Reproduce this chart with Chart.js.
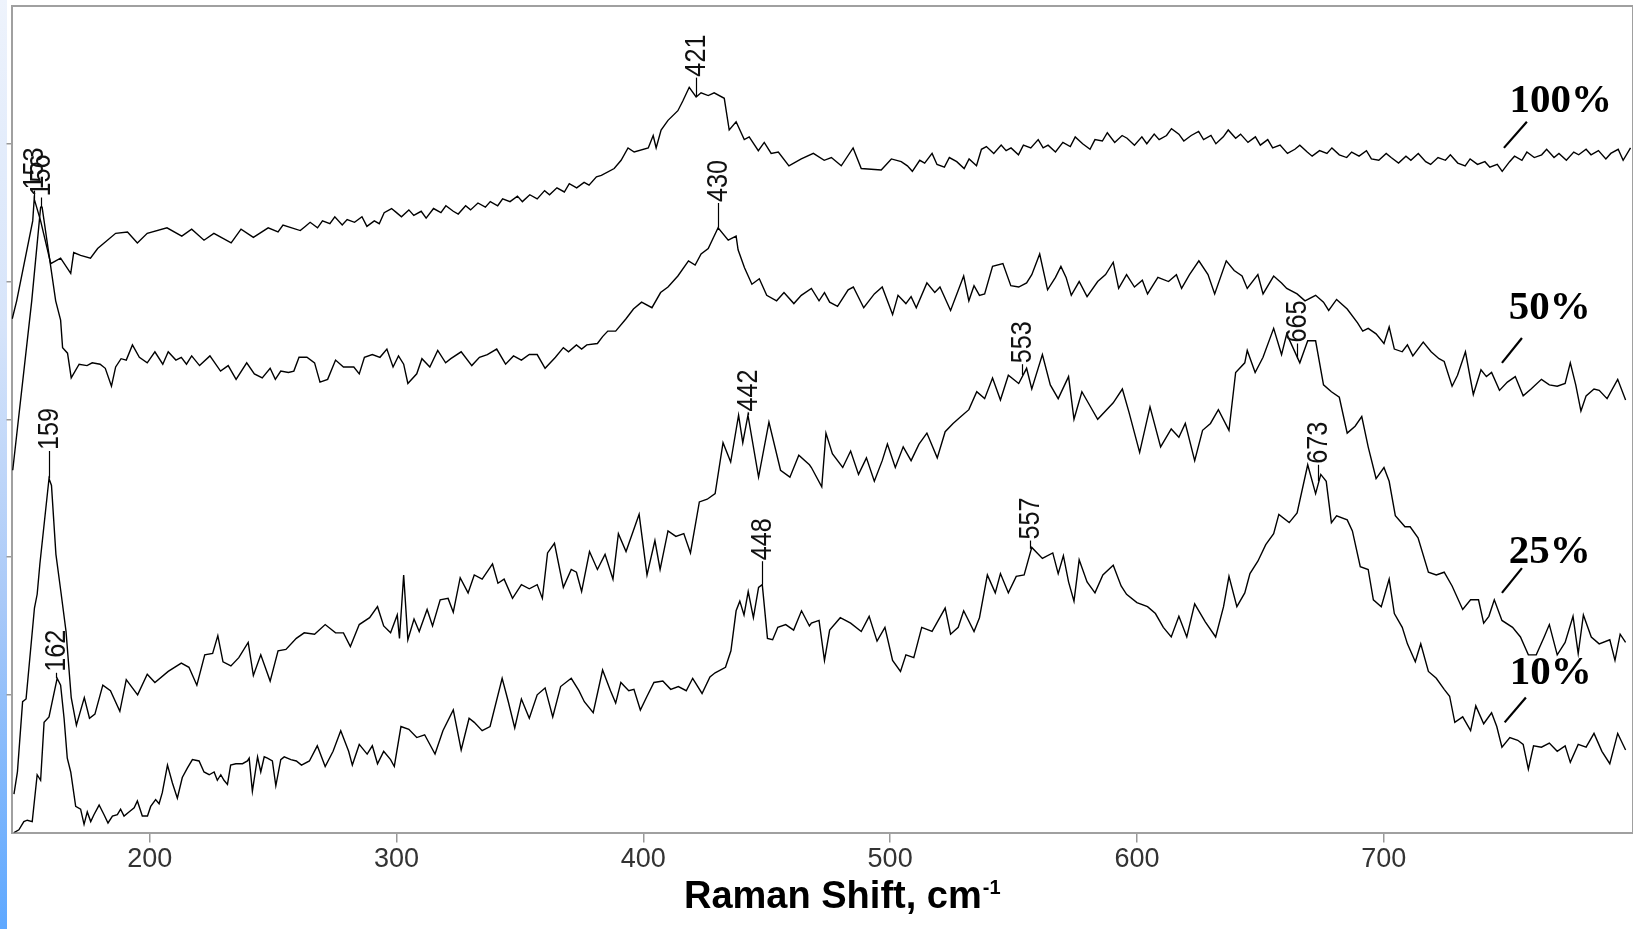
<!DOCTYPE html>
<html>
<head>
<meta charset="utf-8">
<script src="https://cdn.jsdelivr.net/npm/chart.js@4.4.1/dist/chart.umd.min.js"></script>
<style>
  html, body { margin: 0; padding: 0; background: #ffffff; overflow: hidden; }
  #wrap { position: relative; width: 1633px; height: 929px; }
  #strip { position: absolute; left: 0; top: 0; width: 7px; height: 929px;
    background: linear-gradient(to bottom, #eef3fc 0%, #d6e4fa 35%, #a9c9f8 65%, #5ea8ff 100%); }
  canvas { position: absolute; left: 0; top: 0; }
</style>
</head>
<body>
<div id="wrap">
  <div id="strip"></div>
  <canvas id="c" width="1633" height="929"></canvas>
</div>
<script>
// ---------------- DATA ----------------
const seriesNames = ['100%', '50%', '25%', '10%'];
const xTickValues = [200, 300, 400, 500, 600, 700];
const yTickValues = [1, 2, 3, 4, 5];

const spectrum100 = [
[144.3,3.73],[146.1,3.86],[152.6,4.44],[153.2,4.60],[155.8,4.44],[159.9,4.13],[163.9,4.17],[168,4.06],[169.2,4.21],[172,4.19],[176,4.17],[178.9,4.24],[186.2,4.35],[191,4.36],[195,4.28],[199,4.35],[207,4.39],[213,4.33],[217,4.38],[222,4.30],[226,4.35],[233,4.28],[237,4.38],[242,4.32],[248,4.39],[252,4.36],[254,4.41],[261,4.37],
[263,4.40],[265,4.43],[268,4.39],[270,4.44],[273,4.42],[275,4.47],[278,4.41],[280,4.45],[283,4.43],[286,4.47],[288,4.40],[291,4.44],[293,4.42],[295,4.50],[298,4.53],[300,4.50],[302,4.47],[305,4.52],[307,4.48],[310,4.51],[312,4.46],[315,4.53],[318,4.50],[320,4.55],[323,4.51],[325,4.49],[328,4.55],[330,4.52],[333,4.57],[336,4.54],[338,4.58],[341,4.55],[343,4.60],[346,4.58],[349,4.62],[351,4.58],[354,4.63],[357,4.60],[360,4.66],[362,4.63],[365,4.68],[368,4.65],[370,4.71],[373,4.68],[376,4.72],[378,4.70],[381,4.76],[383,4.77],
[388.2,4.82],[391,4.88],[393.8,4.97],[396.3,4.94],[402,4.97],[404,5.06],[405.2,4.97],[407.2,5.10],[410,5.17],[414,5.24],[416,5.31],[418.6,5.41],[421.4,5.34],[423.4,5.37],[426.3,5.35],[428.7,5.37],[432.8,5.33],[434.8,5.10],[437.6,5.16],[440.9,5.03],[442.9,5.05],[446.6,4.95],[449,5.01],[451.8,4.93],[454.7,4.94],[459,4.84],[464,4.89],[468.9,4.93],[473.3,4.88],[476.2,4.90],[480.2,4.84],[485,4.97],[488.3,4.82],[496.4,4.81],[500.5,4.89],[504.5,4.87],
[507,4.84],[509,4.80],[512,4.88],[514,4.86],[517,4.93],[519,4.85],[522,4.83],[524,4.90],[527,4.87],[530,4.82],[532,4.89],[535,4.84],[537,4.96],[539,4.98],[542,4.93],[545,4.99],[547,4.95],[549,4.97],[552,4.92],[554,4.99],[557,4.97],[560,5.03],[562,4.97],[564,4.99],[567,4.94],[570,5.01],[573,4.98],[575,5.05],[578,5.00],[581,4.96],[583,5.03],[586,5.02],[588,5.08],[591,5.01],[594,5.06],[596,5.04],[599,4.99],[602,5.05],[604,5.00],[607,5.07],[609,5.03],[612,5.06],[614,5.11],[617,5.07],[619,5.02],[622,5.06],[625,5.09],[627,5.03],[630,5.06],[632,5.00],[635,5.05],[637,5.10],[640,5.04],[642,5.07],[645,5.01],[648,5.05],[650,4.99],[653,5.03],[655,4.97],[658,4.99],[661,4.93],[664,4.96],[666,4.99],[669,4.94],[671,4.91],[674,4.95],[677,4.93],[679,4.97],[682,4.92],[685,4.90],[687,4.94],[690,4.91],[693,4.95],[695,4.89],[698,4.88],[701,4.93],[703,4.90],[706,4.86],[709,4.91],[711,4.88],[714,4.93],[717,4.87],[719,4.85],[722,4.90],[725,4.88],[727,4.92],[730,4.86],[733,4.84],[735,4.89],[738,4.85],[741,4.87],[743,4.83],[746,4.85],[748,4.80],[751,4.87],[753,4.91],[756,4.88],[758,4.94],[761,4.90],[764,4.92],[766,4.96],[769,4.90],[771,4.93],[774,4.88],[777,4.94],[779,4.92],[782,4.96],[784,4.92],[787,4.95],[790,4.89],[792,4.93],[795,4.96],[797,4.88],[800,4.97]
];

const spectrum50 = [
[144.5,2.63],[152.2,3.86],[155.8,4.54],[156.4,4.54],[161.9,3.86],[163.9,3.72],[164.7,3.52],[166.7,3.48],[168.2,3.30],[171.4,3.40],[174.6,3.39],[176.7,3.41],[179.9,3.40],[182,3.37],[184.5,3.24],[186.2,3.38],[188.4,3.44],[190.5,3.43],[193,3.54],[195.8,3.45],[199,3.41],[202.1,3.49],[205.3,3.40],[207.5,3.49],[210.6,3.43],[212.8,3.45],[214.9,3.40],[217,3.46],[220.2,3.39],[224.4,3.46],[228.7,3.35],[231.8,3.39],[235,3.29],[239.3,3.41],[242.4,3.33],[245.6,3.30],[248.8,3.37],[250.9,3.29],[253.1,3.35],[256.2,3.34],[258.4,3.35],[260.5,3.45],[263.7,3.45],[266.8,3.41],[269,3.27],[272.1,3.29],[275.3,3.43],[278.5,3.38],[282.7,3.38],[284.9,3.33],[287,3.45],[290.2,3.47],[293.3,3.45],[296.1,3.51],[298.6,3.38],[300.8,3.46],[302.9,3.40],[304.6,3.26],[308.2,3.33],[310.3,3.44],[313.5,3.38],[316.7,3.50],[319.9,3.41],[322,3.44],[326.2,3.49],[330.5,3.39],[333.6,3.45],[336.8,3.47],[340.6,3.51],[344.2,3.40],[347.4,3.46],[350.6,3.43],[353.8,3.47],[357,3.47],[360.2,3.37],[364.4,3.45],[367.6,3.52],[369.7,3.49],[372.9,3.54],[375,3.51],[377.1,3.54],[381.4,3.55],[383.5,3.60],[385.6,3.64],[388.8,3.64],[393,3.73],[396,3.80],[399.3,3.85],[403.5,3.81],[407,3.92],[410,3.96],[414,4.04],[418.3,4.15],[421,4.12],[423.4,4.20],[426.3,4.24],[430.3,4.39],[434.4,4.30],[437.6,4.33],[438.4,4.23],[441,4.10],[444,3.98],[447,4.02],[450,3.90],[454,3.86],[457,3.92],[461,3.84],[464,3.90],
[468.1,3.95],[471.2,3.86],[473.4,3.92],[475.5,3.85],[478.7,3.82],[483,3.94],[485.1,3.96],[489.3,3.81],[493.6,3.91],[496.8,3.96],[501,3.76],[503.2,3.90],[506.4,3.84],[508.5,3.89],[510.6,3.81],[514.9,3.99],[518.1,3.92],[520.2,3.96],[524.5,3.79],[529.8,4.04],[531.9,3.86],[534,3.97],[536.2,3.90],[538.3,3.91],[541.5,4.11],[545.7,4.13],[548.9,3.97],[552.1,3.96],[555.3,3.99],[557.4,4.05],[560.6,4.20],[563.8,3.94],[567,4.03],[569.2,4.11],[571.3,4.03],[573.4,3.90],[576.6,4.00],[579.8,3.89],[584.1,4.00],[587.3,4.05],[590.4,4.14],[592.6,3.95],[595.8,4.05],[599,3.96],[602.2,4.01],[604.3,3.91],[608.5,4.03],[612.8,4.00],[616,4.05],[618.1,3.95],[621.3,4.05],[625.1,4.15],[628.8,4.05],[631.5,3.91],[636.2,4.15],[639.4,4.08],[642.6,4.04],[644.7,3.95],[649,4.05],[651.1,3.91],[655.4,4.04],[658.6,3.99],[660.7,3.95],[664.9,3.91],[668.1,3.86],[672.4,3.90],[675.6,3.85],[677.7,3.79],[680.9,3.87],[685.2,3.80],[689.4,3.70],[691.5,3.64],[693.7,3.66],[696.9,3.62],[700.1,3.55],[702.2,3.67],[704.3,3.51],[707.5,3.49],[709.6,3.54],[711.8,3.46],[716,3.56],[719.2,3.49],[722.4,3.44],[724.5,3.42],[727.7,3.24],[729.9,3.32],[733.1,3.49],[736.3,3.18],[739.4,3.36],[741.6,3.31],[743.7,3.34],[746.9,3.21],[750.1,3.27],[753.3,3.31],[756.5,3.17],[759.7,3.22],[763.9,3.29],[767.1,3.25],[770.3,3.24],[773.5,3.26],[775.6,3.41],[777.8,3.25],[779.9,3.06],[782,3.17],[785.2,3.22],[787.3,3.21],[790.5,3.15],[794.8,3.29],[798,3.14]
];

const spectrum25 = [
[145,0.28],[146.4,0.44],[148.5,0.95],[149.9,0.97],[153.3,1.63],[154.4,1.73],[155.5,1.95],[159.2,2.57],[160.2,2.52],[162,2.02],[164,1.75],[166.1,1.46],[168.2,0.98],[170.3,0.78],[173.5,0.98],[175.6,0.83],[177.8,0.86],[181,1.07],[184.1,1.03],[187.9,0.88],[190.5,1.11],[195.1,1.00],[199,1.15],[202.1,1.09],[207.5,1.17],[212.8,1.23],[215.9,1.20],[219.1,1.07],[222.3,1.29],[225.5,1.30],[227.6,1.43],[229.7,1.24],[232.9,1.21],[236.1,1.27],[239.9,1.38],[242,1.14],[245,1.29],[248.8,1.10],[252,1.32],[255.2,1.33],[259.4,1.41],[262.6,1.45],[266.8,1.44],[271.1,1.51],[275.3,1.45],[278.5,1.45],[281.3,1.35],[284.9,1.51],[289.1,1.56],[292.3,1.64],[294.8,1.50],[297.6,1.45],[300.3,1.58],[301.2,1.41],[302.9,1.87],[304.6,1.40],[307.1,1.55],[309.2,1.46],[312.4,1.62],[314.6,1.50],[317.7,1.69],[320.9,1.70],[323,1.60],[325.8,1.85],[329,1.74],[331.5,1.87],[334.7,1.84],[338.9,1.95],[341.1,1.81],[343.6,1.84],[347,1.70],[350.6,1.80],[353.8,1.77],[357,1.80],[359.1,1.70],[361.2,2.03],[364,2.10],[367.6,1.78],[370.8,1.91],[372.9,1.89],[375,1.75],[378.2,2.04],[381.4,1.91],[384.5,2.02],[387.7,1.84],[389.9,2.17],[393,2.04],[398.3,2.31],[401.5,1.87],[404.7,2.12],[406.8,1.91],[410,2.19],[413.2,2.15],[416.4,2.17],[419.1,2.03],[422.7,2.40],[425.9,2.42],[429.1,2.46],[432.3,2.83],[435.4,2.69],[438.6,3.03],[440.3,2.83],[442.4,3.03],[446.7,2.58],[450.9,2.98],[455.6,2.63],[459.4,2.58],[463,2.74],[467.3,2.67],
[468.1,2.65],[472.3,2.51],[474,2.90],[476.6,2.75],[480.8,2.65],[484,2.77],[487.2,2.60],[490.4,2.72],[493.6,2.55],[496.8,2.70],[498.9,2.82],[502.1,2.65],[505.3,2.80],[508.5,2.70],[511.7,2.82],[514.9,2.90],[519.1,2.72],[522.3,2.91],[525.5,2.97],[528.7,3.02],[531.9,3.07],[535.1,3.20],[538.3,3.15],[541.5,3.30],[544.7,3.14],[547.9,3.32],[552.1,3.26],[555.3,3.37],[557.4,3.22],[561.7,3.47],[564.9,3.25],[568.1,3.15],[572.3,3.31],[574.5,3.00],[577.7,3.20],[580.9,3.10],[584.1,3.00],[590.4,3.12],[594.1,3.22],[596.8,3.05],[601.1,2.76],[605.3,3.09],[609.6,2.80],[613.9,2.93],[617,2.87],[619.6,2.97],[623.4,2.70],[626.6,2.92],[629.8,2.97],[633,3.07],[637.3,2.92],[640,3.34],[643.7,3.41],[644.7,3.50],[647.9,3.34],[651.1,3.45],[655.4,3.66],[658.6,3.47],[660.7,3.62],[666,3.41],[669.2,3.57],[672.4,3.57],[675.6,3.25],[678.8,3.20],[682,3.16],[685.2,2.90],[688.4,2.95],[691.1,3.02],[693.7,2.80],[696.9,2.57],[700.1,2.65],[702.2,2.55],[704.7,2.30],[708.6,2.22],[710.7,2.22],[713.9,2.14],[718.1,1.89],[721.3,1.87],[724.5,1.89],[727.7,1.79],[732,1.62],[735.2,1.69],[738.4,1.69],[740.5,1.52],[742.6,1.57],[744.8,1.69],[747.9,1.54],[752.2,1.49],[755.4,1.42],[758.6,1.29],[761.8,1.29],[765,1.42],[767.1,1.51],[770.3,1.29],[773.5,1.38],[776.7,1.57],[778.8,1.30],[780.9,1.58],[784.1,1.42],[787.3,1.37],[791.6,1.40],[793.7,1.25],[795.8,1.44],[798,1.38]
];

const spectrum10 = [
[145,0.00],[147,0.02],[149,0.08],[150.4,0.09],[152.4,0.08],[154.4,0.42],[155.8,0.38],[157.2,0.80],[159.2,0.84],[160.5,0.95],[162.5,1.12],[163.9,1.07],[165.3,0.83],[166.6,0.54],[168,0.44],[170,0.19],[172,0.17],[173.4,0.06],[174.7,0.15],[176.1,0.08],[177.4,0.13],[179.5,0.20],[181.5,0.13],[183.1,0.07],[184.9,0.12],[186.9,0.13],[188.2,0.17],[189.6,0.12],[191.6,0.15],[193.7,0.18],[195,0.23],[197,0.12],[199.1,0.12],[200.4,0.19],[202.4,0.24],[203.8,0.21],[205.1,0.29],[207.2,0.49],[209.2,0.36],[211.2,0.25],[213.2,0.40],[215.3,0.47],[217.3,0.53],[220,0.52],[222,0.44],[224.1,0.42],[226.1,0.44],[227.4,0.38],[228.8,0.42],[230.1,0.38],[231.5,0.35],[232.8,0.49],[234.9,0.50],[237.6,0.50],[239.6,0.52],[240.3,0.54],[241.6,0.30],[243.7,0.55],[245,0.44],[246.4,0.55],[247.7,0.54],[249.7,0.52],[251.1,0.34],[253.1,0.53],[254.5,0.55],[257.2,0.53],[259.4,0.52],[261.5,0.49],[264.7,0.52],[267.9,0.63],[271.1,0.48],[274.3,0.59],[277.4,0.74],[280.6,0.59],[282.1,0.49],[284.9,0.64],[288.1,0.57],[290.2,0.63],[292.3,0.50],[294.8,0.59],[297.6,0.53],[299.1,0.48],[301.8,0.77],[305,0.75],[308.2,0.69],[311.4,0.71],[315.6,0.57],[318.8,0.74],[323,0.89],[326.2,0.60],[329.4,0.83],[331.5,0.80],[334.7,0.74],[337.9,0.77],[342.8,1.12],[345.3,0.95],[347.9,0.76],[350.6,0.97],[353.8,0.83],[357,1.00],[360.2,1.05],[363.3,0.84],[366.5,1.06],[370.8,1.12],[373.9,1.03],[376.1,0.95],[379.7,0.87],[383.5,1.18],[386.7,1.03],[388.8,0.94],[390.9,1.09],[394.1,1.03],[396.2,1.04],[398.8,0.89],[401.5,0.99],[404.3,1.09],[407.9,1.10],[411.1,1.04],[414.2,1.06],[417.4,1.03],[420,1.12],[423.8,1.01],[427,1.13],[429.1,1.16],[433.3,1.20],[435.5,1.32],[437.6,1.61],[439.1,1.68],[440.8,1.58],[442.5,1.75],[444.6,1.56],[446.7,1.78],[448.2,1.80],[450.3,1.41],[452.4,1.40],[454.5,1.49],[457.7,1.51],[460.9,1.47],[464.1,1.61],[467.3,1.50],
[468.1,1.52],[471.2,1.54],[473.4,1.25],[475.5,1.47],[479.8,1.56],[484,1.52],[488.3,1.46],[491.5,1.57],[494.7,1.39],[497.9,1.49],[501,1.25],[504.2,1.17],[506.4,1.29],[509.6,1.27],[512.8,1.49],[517,1.46],[522.3,1.63],[524.5,1.44],[527.6,1.49],[529.8,1.61],[534,1.46],[536.2,1.56],[539.4,1.87],[542.6,1.74],[544.7,1.88],[547.9,1.74],[551.1,1.86],[554.3,1.87],[557.4,2.07],[561.7,1.99],[565.9,2.03],[568.1,1.88],[570.2,2.01],[572.3,1.82],[574.5,1.68],[576.6,1.98],[579.8,1.82],[583,1.74],[586.2,1.87],[590.4,1.94],[593.6,1.79],[595.8,1.73],[600,1.67],[604.3,1.64],[607.5,1.59],[610.7,1.49],[613.9,1.42],[617,1.57],[620.2,1.42],[623.4,1.66],[627.7,1.53],[631.9,1.42],[635.1,1.64],[637.3,1.86],[640.5,1.64],[643.7,1.74],[645.8,1.88],[649,1.97],[652.2,2.09],[655.4,2.17],[657.5,2.31],[661.7,2.25],[664.9,2.32],[669.2,2.67],[672.4,2.46],[674.5,2.60],[676.7,2.55],[678.8,2.25],[680.9,2.30],[685.2,2.27],[687.3,2.19],[690.5,1.93],[693.7,1.91],[695.8,1.69],[699,1.64],[702.2,1.84],[704.3,1.59],[707.5,1.49],[709.6,1.37],[712.8,1.24],[715,1.37],[718.1,1.17],[721.3,1.12],[724.5,1.04],[726.7,0.99],[728.8,0.80],[732,0.84],[735.2,0.74],[737.3,0.92],[740.5,0.79],[743.7,0.87],[745.8,0.77],[747.9,0.62],[751.1,0.69],[754.3,0.67],[756.5,0.64],[758.6,0.46],[760.7,0.63],[763.9,0.62],[767.1,0.65],[770.3,0.59],[773.5,0.63],[775.6,0.51],[778.8,0.64],[782,0.62],[785.2,0.72],[788.4,0.59],[791.6,0.50],[794.8,0.72],[798,0.60]
];

// peak annotations: wavenumber text, x, level of trace, top of marker tick
const peakText  = ['153','156','421','430','159','442','553','665','162','448','557','673'];
const peakX     = [153, 156, 421.5, 430.3, 159, 442.4, 553.5, 665, 162, 448.2, 556.5, 673.5];
const peakLevel = [4.60, 4.54, 5.34, 4.39, 2.57, 3.03, 3.32, 3.44, 1.12, 1.80, 2.06, 2.55];
const peakTop   = [4.66, 4.61, 5.48, 4.57, 2.77, 3.05, 3.40, 3.55, 1.16, 1.97, 2.12, 2.67];

// ---------------- LAYOUT / STYLE ----------------
const seriesLabelStyle = {
  anchors: [[751, 5.23], [750.7, 3.73], [750.7, 1.96], [751.1, 1.08]],
  pointers: [[[748.7, 4.97], [758, 5.16]], [[747.9, 3.41], [756, 3.59]], [[747.9, 1.74], [756, 1.92]], [[749, 0.80], [757.6, 0.98]]],
  font: 'bold 41px "Liberation Serif", "Times New Roman", serif'
};
const sansFont = '"Liberation Sans", Arial, sans-serif';

const annotationPlugin = {
  id: 'annotations',
  afterDatasetsDraw(chart) {
    const ctx = chart.ctx, xs = chart.scales.x, ys = chart.scales.y, a = chart.chartArea;
    ctx.save();
    // peak markers
    ctx.strokeStyle = '#000'; ctx.lineWidth = 1.2; ctx.fillStyle = '#111';
    ctx.font = '30px ' + sansFont;
    ctx.textAlign = 'left'; ctx.textBaseline = 'middle';
    for (let i = 0; i < peakText.length; i++) {
      const px = Math.round(xs.getPixelForValue(peakX[i])) + 0.5;
      const p0 = ys.getPixelForValue(peakLevel[i]);
      const p1 = ys.getPixelForValue(peakTop[i]);
      ctx.beginPath(); ctx.moveTo(px, p0); ctx.lineTo(px, p1); ctx.stroke();
      ctx.save(); ctx.translate(px, p1 - 1); ctx.rotate(-Math.PI / 2); ctx.scale(0.84, 1);
      ctx.fillText(peakText[i], 0, 0); ctx.restore();
    }
    // series labels and pointers
    ctx.fillStyle = '#000'; ctx.font = seriesLabelStyle.font;
    ctx.textAlign = 'left'; ctx.textBaseline = 'alphabetic';
    ctx.lineWidth = 2.2;
    seriesNames.forEach((name, i) => {
      const [ax, ay] = seriesLabelStyle.anchors[i];
      ctx.fillText(name, xs.getPixelForValue(ax), ys.getPixelForValue(ay));
      const [[x0, y0], [x1, y1]] = seriesLabelStyle.pointers[i];
      ctx.beginPath();
      ctx.moveTo(xs.getPixelForValue(x0), ys.getPixelForValue(y0));
      ctx.lineTo(xs.getPixelForValue(x1), ys.getPixelForValue(y1));
      ctx.stroke();
    });
    // frame (top and right sides)
    ctx.strokeStyle = '#a0a0a0'; ctx.lineWidth = 2;
    ctx.beginPath();
    ctx.moveTo(a.left, a.top); ctx.lineTo(a.right, a.top); ctx.lineTo(a.right, a.bottom);
    ctx.stroke();
    // axis title with superscript
    ctx.fillStyle = '#000';
    const main = 'Raman Shift, cm', sup = '-1';
    ctx.font = 'bold 38px ' + sansFont;
    const mw = ctx.measureText(main).width;
    ctx.font = 'bold 20px ' + sansFont;
    const sw = ctx.measureText(sup).width;
    const cx = (a.left + a.right) / 2 + 20;
    const x0 = cx - (mw + sw + 1) / 2;
    ctx.font = 'bold 38px ' + sansFont;
    ctx.fillText(main, x0, 908);
    ctx.font = 'bold 20px ' + sansFont;
    ctx.fillText(sup, x0 + mw + 1, 894);
    ctx.restore();
  }
};

const lineStyle = { borderColor: '#000', borderWidth: 1.4, pointRadius: 0, tension: 0, fill: false };

new Chart(document.getElementById('c'), {
  type: 'line',
  data: {
    datasets: [
      Object.assign({ label: seriesNames[0], data: spectrum100 }, lineStyle),
      Object.assign({ label: seriesNames[1], data: spectrum50 }, lineStyle),
      Object.assign({ label: seriesNames[2], data: spectrum25 }, lineStyle),
      Object.assign({ label: seriesNames[3], data: spectrum10 }, lineStyle)
    ]
  },
  options: {
    responsive: false,
    animation: false,
    events: [],
    layout: { padding: { left: 6.5, right: -1, top: 6, bottom: 52 } },
    plugins: { legend: { display: false }, tooltip: { enabled: false } },
    scales: {
      x: {
        type: 'linear', position: 'bottom', min: 144, max: 801,
        afterBuildTicks: (s) => { s.ticks = xTickValues.map(v => ({ value: v })); },
        grid: { drawOnChartArea: false, drawTicks: true, tickLength: 10, color: '#999', lineWidth: 1.5 },
        border: { display: true, color: '#a0a0a0', width: 2 },
        ticks: { font: { family: sansFont, size: 27 }, color: '#333', padding: 1, maxRotation: 0, autoSkip: false }
      },
      y: {
        type: 'linear', position: 'left', min: 0, max: 6,
        afterBuildTicks: (s) => { s.ticks = yTickValues.map(v => ({ value: v })); },
        grid: { drawOnChartArea: false, drawTicks: true, tickLength: 5, color: '#999', lineWidth: 1.5 },
        border: { display: true, color: '#a0a0a0', width: 2 },
        ticks: { display: false }
      }
    }
  },
  plugins: [annotationPlugin]
});
</script>
</body>
</html>
